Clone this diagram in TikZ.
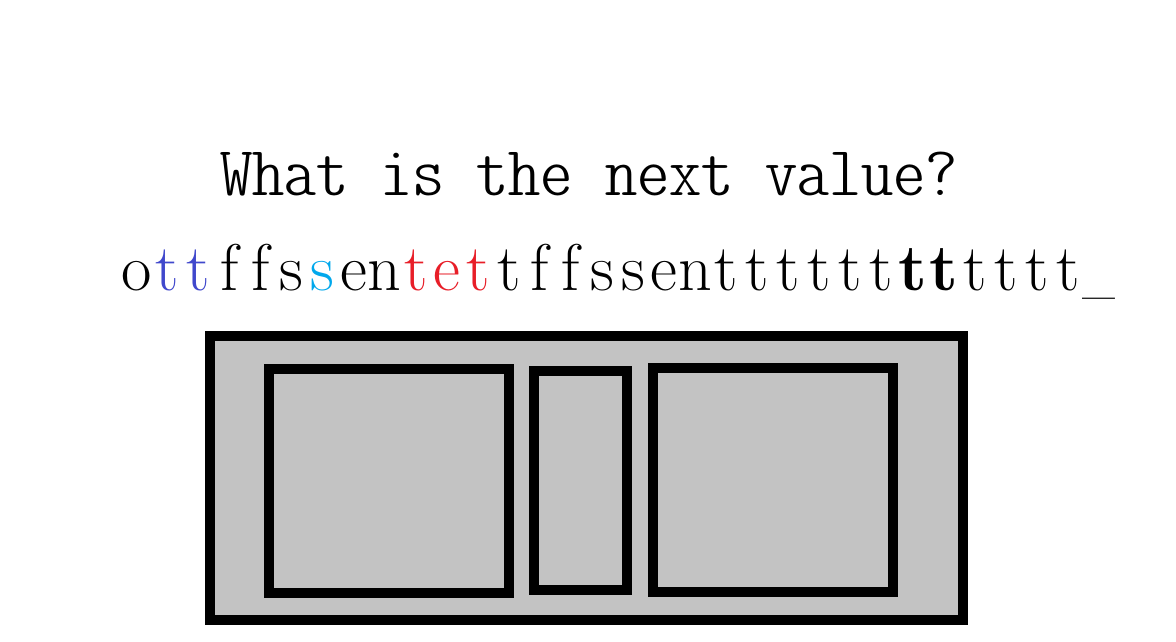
\documentclass[tikz,border=0pt]{standalone}
\usepackage{fontspec}
\newfontfamily\titlefont{lmmonoltcond10-regular.otf}
\definecolor{boxgray}{RGB}{195,195,195}
\definecolor{tblue}{RGB}{64,72,204}
\definecolor{tcyan}{RGB}{0,168,236}
\definecolor{tred}{RGB}{232,30,40}
\newcommand{\cellc}[2]{\makebox[31.06pt][c]{\textcolor{#1}{#2}}}
\newcommand{\cellk}[1]{\makebox[31.06pt][c]{#1}}
\newcommand{\titlestr}{What is the next value?}
\newlength{\titlew}
\settowidth{\titlew}{\fontsize{70.4}{80}\selectfont\titlefont\titlestr}
\tikzset{
  panel/.style={draw=black, fill=boxgray, line width=10pt},
  seqtext/.style={inner sep=0pt, anchor=base west,
    font=\fontsize{66}{72}\selectfont\rmfamily}
}
\begin{document}
\begin{tikzpicture}[x=1pt,y=-1pt]
\fill[white] (0,0) rectangle (1176,642);
\useasboundingbox (0,0) rectangle (1176,642);
\pgfmathsetmacro{\tsc}{738/\titlew}
\node[inner sep=0pt, anchor=base, xscale=\tsc, transform shape,
  font=\fontsize{70.4}{80}\selectfont\titlefont] (title) at (589,195) {\titlestr};
\node[seqtext] (seq) at (120.5,290) {%
\cellk{o}\cellc{tblue}{t}\cellc{tblue}{t}\cellk{f}\cellk{f}\cellk{s}\cellc{tcyan}{s}\cellk{e}\cellk{n}%
\cellc{tred}{t}\cellc{tred}{e}\cellc{tred}{t}\cellk{t}\cellk{f}\cellk{f}\cellk{s}\cellk{s}\cellk{e}\cellk{n}%
\cellk{t}\cellk{t}\cellk{t}\cellk{t}\cellk{t}\cellk{t}\cellk{\textbf{t}}\cellk{\textbf{t}}%
\cellk{t}\cellk{t}\cellk{t}\cellk{t}\cellk{\scalebox{0.72}[1]{\_}}};
\draw[panel] (210,336) rectangle (963,620);
\draw[panel] (269,369) rectangle (509,593);
\draw[panel] (534,371) rectangle (627,590);
\draw[panel] (653,368) rectangle (893,592);
\end{tikzpicture}
\end{document}
